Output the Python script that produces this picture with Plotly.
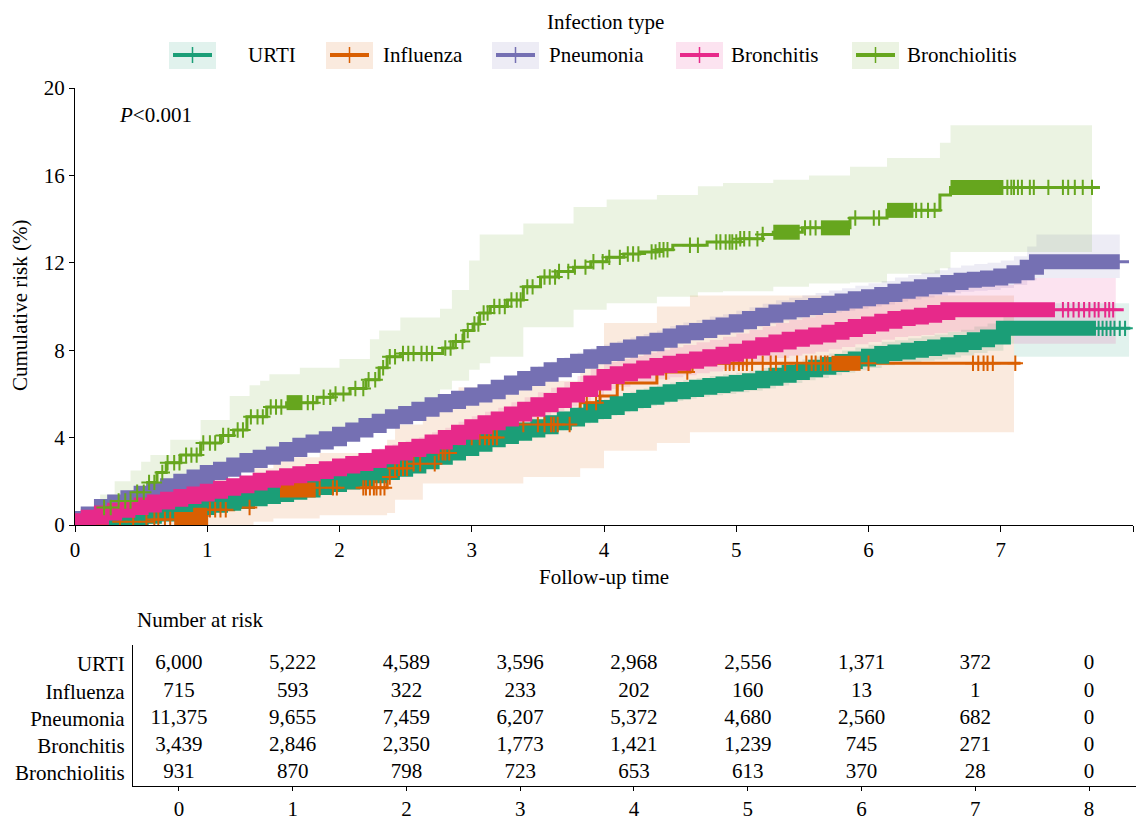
import plotly.graph_objects as go

# ---------------- data ----------------
groups = ["URTI", "Influenza", "Pneumonia", "Bronchitis", "Bronchiolitis"]
colors = ["#1B9E77", "#D95F02", "#7570B3", "#E7298A", "#66A61E"]
band_rgb = ["27,158,119", "217,95,2", "117,112,179", "231,41,138", "102,166,30"]

# URTI
urti_t = [0, 0.1, 0.2, 0.3, 0.4, 0.5, 0.6, 0.7, 0.8, 0.9,
          1.0, 1.1, 1.2, 1.3, 1.4, 1.5, 1.6, 1.7, 1.8, 1.9,
          2.0, 2.1, 2.2, 2.3, 2.4, 2.5, 2.6, 2.7, 2.8, 2.9,
          3.0, 3.1, 3.2, 3.3, 3.4, 3.5, 3.6, 3.7, 3.8, 3.9,
          4.0, 4.1, 4.2, 4.3, 4.4, 4.5, 4.6, 4.7, 4.8, 4.9,
          5.0, 5.1, 5.2, 5.3, 5.4, 5.5, 5.6, 5.7, 5.8, 5.9,
          6.0, 6.1, 6.2, 6.3, 6.4, 6.5, 6.6, 6.7, 6.8, 6.9,
          7.02]
urti_risk = [0, 0.05, 0.1, 0.2, 0.3, 0.4, 0.5, 0.6, 0.7, 0.8,
             0.9, 1.0, 1.1, 1.2, 1.3, 1.4, 1.5, 1.6, 1.72, 1.85,
             1.97, 2.1, 2.25, 2.4, 2.55, 2.7, 2.9, 3.1, 3.3, 3.5,
             3.7, 3.9, 4.05, 4.2, 4.35, 4.5, 4.68, 4.85, 5.02, 5.2,
             5.38, 5.55, 5.7, 5.85, 5.98, 6.1, 6.2, 6.3, 6.38, 6.45,
             6.52, 6.6, 6.72, 6.85, 6.98, 7.1, 7.22, 7.35, 7.48, 7.6,
             7.72, 7.85, 7.92, 8.0, 8.08, 8.15, 8.25, 8.35, 8.48, 8.6,
             9.0]
urti_end = 7.98
urti_ci_t = urti_t + [7.1]
urti_lo = [0, 0.0, 0.02, 0.1, 0.18, 0.27, 0.36, 0.45, 0.55, 0.64,
           0.72, 0.82, 0.9, 0.99, 1.08, 1.18, 1.27, 1.36, 1.47, 1.6,
           1.72, 1.84, 1.98, 2.12, 2.27, 2.41, 2.6, 2.8, 2.99, 3.18,
           3.38, 3.57, 3.72, 3.86, 4.0, 4.15, 4.32, 4.48, 4.65, 4.82,
           5.0, 5.16, 5.3, 5.45, 5.57, 5.68, 5.78, 5.87, 5.94, 6.0,
           6.07, 6.14, 6.25, 6.38, 6.5, 6.62, 6.73, 6.85, 6.97, 7.08,
           7.19, 7.31, 7.38, 7.45, 7.52, 7.58, 7.67, 7.76, 7.87, 7.98,
           8.3, 7.7]
urti_hi = [0, 0.1, 0.18, 0.3, 0.42, 0.53, 0.64, 0.75, 0.85, 0.96,
           1.08, 1.18, 1.3, 1.41, 1.52, 1.62, 1.73, 1.84, 1.97, 2.1,
           2.22, 2.36, 2.52, 2.68, 2.83, 2.99, 3.2, 3.4, 3.61, 3.82,
           4.02, 4.23, 4.38, 4.54, 4.7, 4.85, 5.04, 5.22, 5.4, 5.58,
           5.76, 5.94, 6.1, 6.25, 6.39, 6.52, 6.62, 6.73, 6.82, 6.9,
           6.97, 7.06, 7.19, 7.32, 7.46, 7.58, 7.71, 7.85, 7.99, 8.12,
           8.25, 8.39, 8.46, 8.55, 8.64, 8.72, 8.83, 8.94, 9.09, 9.22,
           9.7, 10.15]
urti_ci_end = 7.97
urti_dense = [(0.25, 7.72)]
urti_censor = [7.74, 7.77, 7.8, 7.83, 7.86, 7.9, 7.94]

# Influenza
flu_t = [0, 0.34, 0.6, 0.95, 1.0, 1.2, 1.35, 1.5, 1.85, 2.36, 2.42, 2.55, 2.74, 2.9, 3.34, 3.82, 3.97, 4.1, 4.4, 4.65]
flu_risk = [0, 0.15, 0.25, 0.45, 0.7, 0.8, 1.15, 1.6, 1.7, 2.2, 2.6, 2.8, 3.3, 4.0, 4.6, 5.6, 5.9, 6.5, 7.0, 7.4]
flu_end = 7.15
flu_ci_t = [0, 0.34, 0.6, 0.95, 1.0, 1.35, 1.5, 1.85, 2.36, 2.42, 2.63, 2.74, 2.9, 3.39, 3.82, 4.0, 4.4, 4.65]
flu_lo = [0, 0, 0, 0, 0, 0.15, 0.3, 0.45, 0.55, 1.15, 1.9, 1.9, 1.9, 2.2, 2.6, 3.4, 3.75, 4.25]
flu_hi = [0, 0.8, 1.1, 1.6, 2.0, 2.6, 3.1, 3.3, 3.9, 4.6, 5.25, 5.6, 6.3, 6.6, 7.8, 9.25, 10.0, 10.5]
flu_ci_end = 7.1
flu_dense = [(0.75, 1.0), (1.55, 1.82), (5.72, 5.94)]
flu_censor = [0.34, 0.44, 0.54, 0.6, 0.63, 0.68, 0.72, 1.02, 1.06, 1.1, 1.14, 1.32, 1.85, 1.95, 1.98,
              2.18, 2.2, 2.23, 2.26, 2.28, 2.31, 2.34, 2.38, 2.42, 2.45, 2.48, 2.51, 2.56, 2.61, 2.72, 2.75,
              2.78, 2.8, 2.83, 2.9, 2.94, 3.0, 3.06, 3.1, 3.13, 3.16, 3.19, 3.39, 3.5, 3.55, 3.6, 3.62, 3.65,
              3.74, 3.87, 3.94, 3.97, 4.1, 4.14, 4.4, 4.47, 4.63, 4.67, 4.92, 4.95, 4.98, 5.02, 5.05, 5.08,
              5.12, 5.2, 5.26, 5.3, 5.37, 5.46, 5.53, 5.57, 5.6, 5.64, 5.67, 5.69, 6.0, 6.79, 6.83, 6.87,
              6.9, 6.94, 7.11]

# Pneumonia
pneu_t = [0, 0.05, 0.1, 0.2, 0.3, 0.4, 0.5, 0.6, 0.7, 0.8, 0.9,
          1.0, 1.1, 1.2, 1.3, 1.4, 1.5, 1.6, 1.7, 1.8, 1.9,
          2.0, 2.1, 2.2, 2.3, 2.4, 2.5, 2.6, 2.7, 2.8, 2.9,
          3.0, 3.1, 3.2, 3.3, 3.4, 3.5, 3.6, 3.7, 3.8, 3.9,
          4.0, 4.1, 4.2, 4.3, 4.4, 4.5, 4.6, 4.7, 4.8, 4.9,
          5.0, 5.1, 5.2, 5.3, 5.4, 5.5, 5.6, 5.7, 5.8, 5.9,
          6.0, 6.1, 6.2, 6.3, 6.4, 6.5, 6.6, 6.7, 6.8, 6.9,
          7.0, 7.1, 7.2, 7.27]
pneu_risk = [0, 0.3, 0.5, 0.85, 1.05, 1.25, 1.45, 1.6, 1.8, 2.0, 2.2,
             2.4, 2.55, 2.75, 2.95, 3.1, 3.25, 3.45, 3.65, 3.8, 3.95,
             4.15, 4.35, 4.55, 4.75, 4.95, 5.1, 5.3, 5.5, 5.65, 5.8,
             5.95, 6.1, 6.3, 6.5, 6.7, 6.9, 7.1, 7.3, 7.5, 7.7,
             7.85, 8.0, 8.15, 8.3, 8.45, 8.65, 8.8, 8.9, 9.05, 9.15,
             9.3, 9.45, 9.6, 9.75, 9.85, 9.95, 10.05, 10.15, 10.25, 10.35,
             10.45, 10.55, 10.7, 10.8, 10.9, 11.0, 11.1, 11.2, 11.25, 11.3,
             11.4, 11.55, 11.8, 12.05]
pneu_end = 7.97
pneu_ci_t = pneu_t
pneu_lo = [0, 0.2, 0.38, 0.72, 0.92, 1.12, 1.31, 1.46, 1.65, 1.85, 2.04,
           2.24, 2.38, 2.58, 2.77, 2.92, 3.06, 3.26, 3.45, 3.6, 3.74,
           3.94, 4.13, 4.33, 4.52, 4.72, 4.86, 5.06, 5.25, 5.4, 5.54,
           5.69, 5.83, 6.03, 6.22, 6.42, 6.61, 6.81, 7.0, 7.2, 7.39,
           7.54, 7.68, 7.83, 7.97, 8.12, 8.31, 8.45, 8.55, 8.69, 8.78,
           8.92, 9.06, 9.2, 9.35, 9.44, 9.53, 9.63, 9.72, 9.81, 9.9,
           10.0, 10.09, 10.23, 10.32, 10.41, 10.5, 10.59, 10.68, 10.72, 10.76,
           10.85, 10.98, 11.2, 11.3]
pneu_hi = [0, 0.4, 0.62, 0.98, 1.18, 1.39, 1.59, 1.75, 1.96, 2.16, 2.37,
           2.57, 2.73, 2.93, 3.14, 3.3, 3.45, 3.66, 3.87, 4.03, 4.18,
           4.39, 4.6, 4.8, 5.01, 5.22, 5.37, 5.58, 5.79, 5.95, 6.1,
           6.26, 6.42, 6.63, 6.84, 7.05, 7.26, 7.47, 7.68, 7.89, 8.1,
           8.26, 8.42, 8.58, 8.74, 8.9, 9.11, 9.27, 9.38, 9.54, 9.65,
           9.81, 9.97, 10.13, 10.29, 10.4, 10.51, 10.62, 10.73, 10.84, 10.95,
           11.06, 11.17, 11.33, 11.44, 11.55, 11.66, 11.77, 11.88, 11.94, 12.0,
           12.11, 12.3, 12.75, 13.3]
pneu_ci_end = 7.9
pneu_dense = [(0.02, 7.9)]
pneu_censor = []

# Bronchitis
bron_t = [0, 0.03, 0.1, 0.2, 0.3, 0.4, 0.5, 0.6, 0.7, 0.8, 0.9,
          1.0, 1.1, 1.2, 1.3, 1.4, 1.5, 1.6, 1.7, 1.8, 1.9,
          2.0, 2.1, 2.2, 2.3, 2.4, 2.5, 2.6, 2.7, 2.8, 2.9,
          3.0, 3.1, 3.2, 3.3, 3.4, 3.5, 3.6, 3.7, 3.8, 3.9,
          4.0, 4.1, 4.2, 4.3, 4.4, 4.5, 4.6, 4.7, 4.8, 4.9,
          5.0, 5.1, 5.2, 5.3, 5.4, 5.5, 5.6, 5.7, 5.8, 5.9,
          6.0, 6.1, 6.2, 6.3, 6.4, 6.5, 6.6]
bron_risk = [0, 0.2, 0.35, 0.55, 0.68, 0.8, 0.92, 1.05, 1.18, 1.3, 1.42,
             1.55, 1.68, 1.8, 1.92, 2.05, 2.15, 2.25, 2.35, 2.45, 2.58,
             2.7, 2.82, 2.95, 3.12, 3.3, 3.45, 3.6, 3.8, 4.0, 4.25,
             4.5, 4.68, 4.85, 5.08, 5.3, 5.5, 5.7, 5.95, 6.2, 6.5,
             6.8, 6.92, 7.05, 7.18, 7.3, 7.4, 7.5, 7.6, 7.7, 7.82,
             7.95, 8.1, 8.25, 8.38, 8.5, 8.6, 8.7, 8.82, 8.95, 9.08,
             9.2, 9.32, 9.45, 9.52, 9.6, 9.72, 9.85]
bron_end = 7.93
bron_ci_t = bron_t + [7.1]
bron_lo = [0, 0.08, 0.22, 0.4, 0.52, 0.63, 0.74, 0.86, 0.98, 1.09, 1.2,
           1.31, 1.43, 1.55, 1.66, 1.78, 1.88, 1.97, 2.06, 2.15, 2.27,
           2.38, 2.49, 2.61, 2.77, 2.93, 3.07, 3.21, 3.4, 3.58, 3.81,
           4.05, 4.22, 4.38, 4.6, 4.8, 4.99, 5.18, 5.42, 5.65, 5.93,
           6.22, 6.33, 6.45, 6.56, 6.67, 6.76, 6.85, 6.94, 7.03, 7.13,
           7.25, 7.38, 7.52, 7.64, 7.75, 7.84, 7.93, 8.04, 8.15, 8.27,
           8.38, 8.48, 8.6, 8.65, 8.7, 8.78, 8.85,
           8.3]
bron_hi = [0, 0.32, 0.5, 0.72, 0.86, 0.99, 1.12, 1.26, 1.4, 1.53, 1.66,
           1.8, 1.94, 2.07, 2.2, 2.34, 2.45, 2.56, 2.67, 2.78, 2.92,
           3.05, 3.18, 3.32, 3.5, 3.7, 3.86, 4.02, 4.24, 4.45, 4.72,
           4.98, 5.18, 5.37, 5.62, 5.85, 6.07, 6.28, 6.55, 6.82, 7.14,
           7.46, 7.6, 7.74, 7.88, 8.02, 8.13, 8.24, 8.36, 8.47, 8.61,
           8.76, 8.93, 9.1, 9.25, 9.39, 9.51, 9.63, 9.78, 9.93, 10.09,
           10.24, 10.39, 10.55, 10.64, 10.73, 10.88, 11.0,
           11.3]
bron_ci_end = 7.87
bron_dense = [(0.01, 7.41)]
bron_censor = [7.47, 7.51, 7.55, 7.59, 7.63, 7.67, 7.71, 7.74, 7.79, 7.82, 7.85]

# Bronchiolitis
bchl_t = [0, 0.1, 0.21, 0.3, 0.44, 0.55, 0.62, 0.69, 0.8, 0.95, 1.1, 1.2, 1.3, 1.45, 1.6, 1.83, 1.95, 2.08,
          2.2, 2.3, 2.36, 2.46, 2.78, 2.86, 2.94, 3.01, 3.06, 3.14, 3.27, 3.39, 3.52, 3.65, 3.77, 3.9, 4.02,
          4.15, 4.27, 4.4, 4.52, 4.78, 5.03, 5.2, 5.28, 5.5, 5.86, 6.14, 6.54, 6.62]
bchl_risk = [0, 0.35, 0.8, 1.1, 1.5, 1.95, 2.4, 2.85, 3.2, 3.75, 4.1, 4.35, 4.95, 5.4, 5.6, 5.85, 6.0, 6.25,
             6.65, 7.2, 7.7, 7.85, 8.1, 8.4, 8.9, 9.2, 9.7, 10.0, 10.3, 10.9, 11.35, 11.6, 11.8, 12.05, 12.25,
             12.4, 12.5, 12.6, 12.8, 12.95, 13.1, 13.3, 13.4, 13.6, 14.05, 14.4, 15.1, 15.45]
bchl_end = 7.75
bchl_ci_t = [0, 0.1, 0.19, 0.3, 0.42, 0.5, 0.57, 0.72, 0.95, 1.17, 1.32, 1.4, 1.47, 1.7, 2.0, 2.23, 2.3, 2.46,
             2.76, 2.85, 2.98, 3.06, 3.14, 3.39, 3.4, 3.77, 4.02, 4.4, 4.71, 4.9, 5.28, 5.55, 5.86, 6.14, 6.54,
             6.62]
bchl_lo = [0, 0, 0, 0.45, 0.7, 0.9, 1.1, 1.5, 1.9, 2.5, 2.8, 3.0, 3.2, 3.6, 4.1, 4.5, 4.8, 5.4, 6.2, 6.6, 7.1,
           7.4, 7.7, 9.05, 9.05, 9.85, 10.15, 10.45, 10.65, 10.7, 10.9, 11.05, 11.1, 11.5, 11.75, 12.5]
bchl_hi = [0, 0.7, 1.4, 2.0, 2.5, 2.9, 3.2, 3.9, 4.8, 5.9, 6.4, 6.6, 6.9, 7.2, 7.6, 8.5, 8.9, 9.5, 9.9, 10.75,
           12.1, 13.3, 13.3, 13.8, 13.8, 14.55, 14.9, 15.1, 15.5, 15.65, 15.8, 16.0, 16.4, 16.8, 17.5, 18.3]
bchl_ci_end = 7.69
bchl_dense = [(1.6, 1.72), (5.28, 5.48), (5.64, 5.86), (6.14, 6.34), (6.62, 7.02)]
bchl_censor = [0.22, 0.27, 0.33, 0.38, 0.42, 0.47, 0.52, 0.56, 0.6, 0.66, 0.7, 0.75, 0.79, 0.84, 0.88, 0.92,
               0.97, 1.02, 1.06, 1.12, 1.16, 1.23, 1.27, 1.33, 1.38, 1.42, 1.48, 1.52, 1.56, 1.76, 1.8, 1.88,
               1.93, 1.97, 2.03, 2.12, 2.18, 2.22, 2.27, 2.33, 2.38, 2.42, 2.48, 2.52, 2.56, 2.62, 2.66, 2.7,
               2.8, 2.84, 2.88, 2.93, 2.97, 3.02, 3.05, 3.09, 3.12, 3.17, 3.21, 3.25, 3.3, 3.34, 3.37, 3.42,
               3.46, 3.55, 3.59, 3.63, 3.66, 3.73, 3.78, 3.86, 3.92, 3.99, 4.04, 4.12, 4.18, 4.22, 4.26, 4.36,
               4.39, 4.42, 4.45, 4.48, 4.65, 4.71, 4.85, 4.88, 4.92, 4.95, 4.97, 5.0, 5.03, 5.06, 5.1, 5.16,
               5.2, 5.52, 5.56, 5.6, 5.9, 6.04, 6.08, 6.36, 6.4, 6.45, 6.5, 7.05, 7.08, 7.1, 7.13, 7.16, 7.22,
               7.25, 7.36, 7.47, 7.51, 7.56, 7.62, 7.69]

# Number at risk table
risk_times = [0, 1, 2, 3, 4, 5, 6, 7, 8]
n_urti = [6000, 5222, 4589, 3596, 2968, 2556, 1371, 372, 0]
n_flu = [715, 593, 322, 233, 202, 160, 13, 1, 0]
n_pneu = [11375, 9655, 7459, 6207, 5372, 4680, 2560, 682, 0]
n_bron = [3439, 2846, 2350, 1773, 1421, 1239, 745, 271, 0]
n_bchl = [931, 870, 798, 723, 653, 613, 370, 28, 0]

series = [
    (urti_t, urti_risk, urti_end, urti_ci_t, urti_lo, urti_hi, urti_ci_end, urti_dense, urti_censor),
    (flu_t, flu_risk, flu_end, flu_ci_t, flu_lo, flu_hi, flu_ci_end, flu_dense, flu_censor),
    (pneu_t, pneu_risk, pneu_end, pneu_ci_t, pneu_lo, pneu_hi, pneu_ci_end, pneu_dense, pneu_censor),
    (bron_t, bron_risk, bron_end, bron_ci_t, bron_lo, bron_hi, bron_ci_end, bron_dense, bron_censor),
    (bchl_t, bchl_risk, bchl_end, bchl_ci_t, bchl_lo, bchl_hi, bchl_ci_end, bchl_dense, bchl_censor),
]
at_risk = [n_urti, n_flu, n_pneu, n_bron, n_bchl]

for name, s in zip(groups, series):
    assert len(s[0]) == len(s[1]), name
    assert len(s[3]) == len(s[4]) == len(s[5]), name

# ---------------- layout geometry (pixels) ----------------
W, H = 1136, 819
FONT = "Liberation Serif"
FS = 21


def px(x):
    return x / W


def py(y):
    return 1 - y / H


def step_at(ts, ys, x):
    v = ys[0]
    for ti, yi in zip(ts, ys):
        if ti <= x:
            v = yi
        else:
            break
    return v


fig = go.Figure()

# confidence bands
for (t, r, te, ct, lo, hi, cte, dense, cens), rgb in zip(series, band_rgb):
    fig.add_trace(go.Scatter(x=ct + [cte], y=lo + [lo[-1]], mode="lines", line=dict(width=0, shape="hv"),
                             showlegend=False, hoverinfo="skip", xaxis="x", yaxis="y"))
    fig.add_trace(go.Scatter(x=ct + [cte], y=hi + [hi[-1]], mode="lines", line=dict(width=0, shape="hv"),
                             fill="tonexty", fillcolor=f"rgba({rgb},0.13)",
                             showlegend=False, hoverinfo="skip", xaxis="x", yaxis="y"))

# step curves
for (t, r, te, ct, lo, hi, cte, dense, cens), col in zip(series, colors):
    fig.add_trace(go.Scatter(x=t + [te], y=r + [r[-1]], mode="lines", line=dict(color=col, width=3, shape="hv"),
                             showlegend=False, xaxis="x", yaxis="y"))

# censoring marks: dense stretches drawn as a solid band, sparse ones as "+"
for (t, r, te, ct, lo, hi, cte, dense, cens), col in zip(series, colors):
    for a, b in dense:
        xs = [a] + [ti for ti in t if a < ti < b]
        ys = [step_at(t, r, xi) for xi in xs]
        xs.append(b)
        ys.append(ys[-1])
        fig.add_trace(go.Scatter(x=xs, y=ys, mode="lines", line=dict(color=col, width=15, shape="hv"),
                                 showlegend=False, hoverinfo="skip", xaxis="x", yaxis="y"))
    if cens:
        fig.add_trace(go.Scatter(x=cens, y=[step_at(t, r, c) for c in cens], mode="markers",
                                 marker=dict(symbol="cross-thin", size=11, line=dict(color=col, width=2)),
                                 showlegend=False, xaxis="x", yaxis="y"))

# number-at-risk table
row_pos = [4, 3, 2, 1, 0]
for n, yrow in zip(at_risk, row_pos):
    fig.add_trace(go.Scatter(x=risk_times, y=[yrow] * len(risk_times), mode="text",
                             text=[f"{v:,}" for v in n], textposition="middle center",
                             textfont=dict(family=FONT, size=FS, color="black"),
                             showlegend=False, hoverinfo="skip", xaxis="x2", yaxis="y2"))

axis_common = dict(showline=True, linecolor="black", linewidth=1.2, ticks="outside", tickcolor="black",
                   tickwidth=1.2, showgrid=False, zeroline=False, automargin=False,
                   tickfont=dict(family=FONT, size=FS, color="black"))

fig.update_layout(
    width=W, height=H, margin=dict(l=0, r=0, t=0, b=0, autoexpand=False),
    paper_bgcolor="white", plot_bgcolor="white", showlegend=False,
    xaxis=dict(domain=[px(75), px(1133)], range=[0, 8], tickvals=list(range(9)), ticklen=6,
               anchor="y", **axis_common),
    yaxis=dict(domain=[py(525), py(88)], range=[0, 20], tickvals=[0, 4, 8, 12, 16, 20], ticklen=5,
               anchor="x", **axis_common),
    xaxis2=dict(domain=[px(133), 1.0], range=[-0.404, 8.413], tickvals=risk_times, ticklen=4,
                anchor="y2", **axis_common),
    yaxis2=dict(domain=[py(786), py(645)], range=[-0.477, 4.697], tickvals=row_pos, ticktext=groups,
                anchor="x2", showline=True, linecolor="black", linewidth=1.2, ticks="",
                showgrid=False, zeroline=False, ticklabelstandoff=3, automargin=False,
                tickfont=dict(family=FONT, size=FS, color="black")),
)

ann = [
    dict(x=px(20), y=py(306), text="Cumulative risk (%)", textangle=-90),
    dict(x=px(604), y=py(577), text="Follow-up time"),
    dict(x=px(117), y=py(115), text="<i>P</i>&lt;0.001", xanchor="left"),
    dict(x=px(135), y=py(620), text="Number at risk", xanchor="left"),
    dict(x=px(605), y=py(22), text="Infection type"),
]

# legend: light swatch with a "+" line key, followed by the label
sw_left = [169, 326, 492, 676, 852]
lab_left = [246, 381, 547, 729, 905]
shapes = []
for g, col, rgb, sl, ll in zip(groups, colors, band_rgb, sw_left, lab_left):
    shapes.append(dict(type="rect", xref="paper", yref="paper", x0=px(sl), x1=px(sl + 47), y0=py(69), y1=py(42),
                       fillcolor=f"rgba({rgb},0.13)", line=dict(width=0), layer="above"))
    shapes.append(dict(type="line", xref="paper", yref="paper", x0=px(sl + 4), x1=px(sl + 43), y0=py(55), y1=py(55),
                       line=dict(color=col, width=4), layer="above"))
    shapes.append(dict(type="line", xref="paper", yref="paper", x0=px(sl + 23.5), x1=px(sl + 23.5),
                       y0=py(47), y1=py(63), line=dict(color=col, width=1.5), layer="above"))
    ann.append(dict(x=px(ll), y=py(55), text=g, xanchor="left"))

for a in ann:
    a.update(xref="paper", yref="paper", showarrow=False,
             font=dict(family=FONT, size=FS, color="black"))
    a.setdefault("xanchor", "center")
    a.setdefault("yanchor", "middle")

fig.update_layout(annotations=ann, shapes=shapes)
fig.write_html("out.html")
